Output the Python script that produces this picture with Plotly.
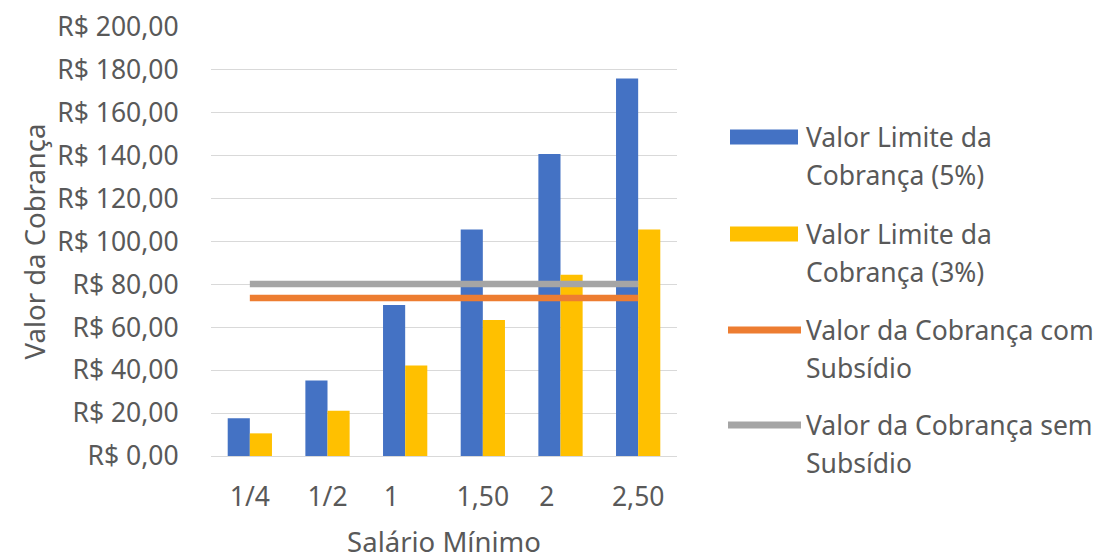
import textwrap
import plotly.graph_objects as go

categories = ["1/4", "1/2", "1", "1,50", "2", "2,50"]
tick_labels = ["1/4", "1/2", "1\u00a0\u00a0\u00a0\u00a0", "1,50", "2\u00a0\u00a0\u00a0\u00a0", "2,50"]
limite_5 = [17.6, 35.2, 70.4, 105.6, 140.8, 176.0]
limite_3 = [10.56, 21.12, 42.24, 63.36, 84.48, 105.6]
com_subsidio = [73.7, 73.7, 73.7, 73.7, 73.7, 73.7]
sem_subsidio = [80.2, 80.2, 80.2, 80.2, 80.2, 80.2]
series_names = [
    "Valor Limite da Cobrança (5%)",
    "Valor Limite da Cobrança (3%)",
    "Valor da Cobrança com Subsídio",
    "Valor da Cobrança sem Subsídio",
]
y_tickvals = [0, 20, 40, 60, 80, 100, 120, 140, 160, 180, 200]
y_ticktext = ["R$ 0,00", "R$ 20,00", "R$ 40,00", "R$ 60,00", "R$ 80,00", "R$ 100,00",
              "R$ 120,00", "R$ 140,00", "R$ 160,00", "R$ 180,00", "R$ 200,00"]

BLUE, YELLOW, ORANGE, GRAY = "#4472C4", "#FFC000", "#ED7D31", "#A5A5A5"
TXT = "#595959"
FONT = "Noto Sans"
FS = 26.5

W, H = 1103, 560
L, R, T, B = 211, 426, 27, 104
pw, ph = W - L - R, H - T - B

fig = go.Figure()
fig.add_trace(go.Bar(x=categories, y=limite_5, name=series_names[0], marker_color=BLUE,
                     marker_line_width=0))
fig.add_trace(go.Bar(x=categories, y=limite_3, name=series_names[1], marker_color=YELLOW,
                     marker_line_width=0))
fig.add_trace(go.Scatter(x=categories, y=com_subsidio, name=series_names[2], mode="lines",
                         line=dict(color=ORANGE, width=6.5)))
fig.add_trace(go.Scatter(x=categories, y=sem_subsidio, name=series_names[3], mode="lines",
                         line=dict(color=GRAY, width=6.5)))

def px_x(px):
    return (px - L) / pw

def px_y(py):
    return (H - B - py) / ph

# custom legend (Excel style)
legend_rows = [137, 234, 330, 425]
colors = [BLUE, YELLOW, ORANGE, GRAY]
shapes = []
annotations = []
for i, (name, col, yc) in enumerate(zip(series_names, colors, legend_rows)):
    if i < 2:
        shapes.append(dict(type="rect", xref="paper", yref="paper",
                           x0=px_x(730), x1=px_x(798), y0=px_y(yc + 7.5), y1=px_y(yc - 7.5),
                           fillcolor=col, line=dict(width=0)))
    else:
        shapes.append(dict(type="line", xref="paper", yref="paper",
                           x0=px_x(728), x1=px_x(801), y0=px_y(yc), y1=px_y(yc),
                           line=dict(color=col, width=7)))
    for j, line in enumerate(textwrap.wrap(name, 21)):
        annotations.append(dict(text=line, xref="paper", yref="paper",
                                x=px_x(804), y=px_y(yc + j * 38), xanchor="left",
                                yanchor="middle", showarrow=False,
                                font=dict(family=FONT, size=FS, color=TXT)))

fig.update_layout(
    width=W, height=H,
    margin=dict(l=L, r=R, t=T, b=B, pad=0, autoexpand=False),
    paper_bgcolor="white", plot_bgcolor="white",
    barmode="group", bargap=0.43, bargroupgap=0,
    showlegend=False,
    font=dict(family=FONT, size=FS, color=TXT),
    shapes=shapes, annotations=annotations,
)
fig.update_xaxes(
    automargin=False,
    tickmode="array", tickvals=categories, ticktext=tick_labels,
    ticks="outside", ticklen=17, tickcolor="rgba(0,0,0,0)",
    showline=False, showgrid=False,
    title=dict(text="Salário Mínimo", standoff=30, font=dict(family=FONT, size=27.5, color=TXT)),
)
fig.update_yaxes(
    automargin=False,
    range=[0, 200], tickmode="array", tickvals=y_tickvals, ticktext=y_ticktext,
    ticks="outside", ticklen=26, tickcolor="rgba(0,0,0,0)",
    showgrid=True, gridcolor="#D9D9D9", gridwidth=1.3,
    zeroline=True, zerolinecolor="#D9D9D9", zerolinewidth=1.3, showline=False,
    title=dict(text="Valor da Cobrança", standoff=3, font=dict(family=FONT, size=27.5, color=TXT)),
)

fig.write_html("out.html")
